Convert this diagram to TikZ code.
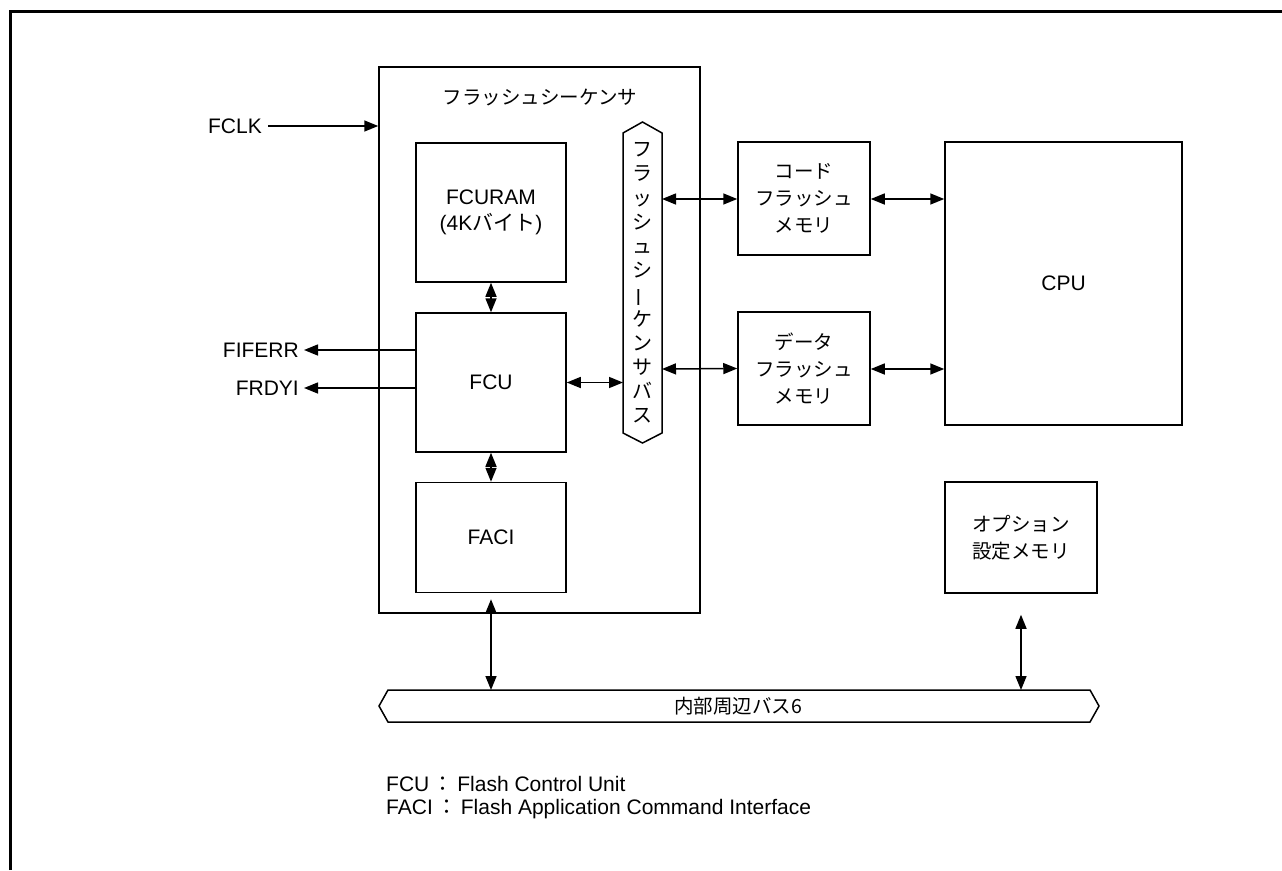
\documentclass[tikz,border=0pt]{standalone}
\usepackage{fontspec}
\usepackage{graphicx}
\setmainfont{Liberation Sans}
\newfontfamily\cjk{Noto Sans CJK JP}
\usetikzlibrary{arrows.meta}
\begin{document}
\begin{tikzpicture}[x=1pt,y=-1pt,
  every node/.style={font=\fontsize{21}{26}\selectfont},
  blk/.style={draw,line width=1.5pt,inner sep=0pt,align=center},
  lnk/.style={line width=1.5pt,{Triangle[length=14pt,width=11pt]}-{Triangle[length=14pt,width=11pt]}},
  one/.style={line width=1.5pt,-{Triangle[length=14pt,width=11pt]}},
  txt/.style={inner sep=0pt},
  jp/.style={font=\cjk\fontsize{19.5}{27}\selectfont}]
\useasboundingbox (0,0) rectangle (1282,870);
% frame
\draw[line width=3pt] (10,870) -- (10,11) -- (1282,11);
% flash sequencer
\node[blk,minimum width=321pt,minimum height=546pt] (seq) at (539.5,340) {};
\node[txt,jp] (seqt) at (540,98) {フラッシュシーケンサ};
% FCURAM
\node[blk,minimum width=150pt,minimum height=139pt] (ram) at (491,212.5) {FCURAM\\(4K{\cjk バイト})};
\node[blk,minimum width=150pt,minimum height=139pt] (fcu) at (491,382.5) {FCU};
\node[blk,minimum width=150pt,minimum height=110pt] (faci) at (491,537.5) {FACI};
% vertical bus
\coordinate (vbt) at (642.5,122);
\coordinate (vbb) at (642.5,443);
\draw[line width=1.5pt] (623,133) -- (vbt) -- (662,133) -- (662,433) -- (vbb) -- (623,433) -- cycle;
\node[txt,align=center,font=\cjk\fontsize{20}{24.2}\selectfont] (vbus) at (642.5,283) {フ\\ラ\\ッ\\シ\\ュ\\シ\\\rotatebox[origin=c]{90}{ー}\\ケ\\ン\\サ\\バ\\ス};
% code / data flash
\node[blk,jp,minimum width=132pt,minimum height=113pt] (code) at (804,198.5) {コード\\フラッシュ\\メモリ};
\node[blk,jp,minimum width=132pt,minimum height=113pt] (data) at (804,368.5) {データ\\フラッシュ\\メモリ};
\node[blk,minimum width=237pt,minimum height=283pt] (cpu) at (1063.5,283.5) {CPU};
\node[blk,jp,minimum width=152pt,minimum height=111pt] (opt) at (1021,537.5) {オプション\\設定メモリ};
% internal bus
\draw[line width=1.5pt] (388,690) -- (1090,690) -- (1099,706) -- (1090,722) -- (388,722) -- (379,706) -- cycle;
\node[txt,jp] (ibus) at (738,706) {内部周辺バス6};
\coordinate (ibt1) at (491,690);
\coordinate (ibt2) at (1021,690);
% external signals
\node[txt,anchor=east] (fclk) at (262,126) {FCLK};
\draw[one] ([xshift=6pt]fclk.east) -- (seq.west |- fclk);
\node[txt,anchor=east] (fiferr) at (299,350) {FIFERR};
\node[txt,anchor=east] (frdyi) at (299,388) {FRDYI};
\draw[one] (fcu.west |- fiferr) -- ([xshift=5pt]fiferr.east);
\draw[one] (fcu.west |- frdyi) -- ([xshift=5pt]frdyi.east);
% links
\draw[lnk] (ram.south) -- (fcu.north);
\draw[lnk] (fcu.south) -- (faci.north);
\draw[lnk] ([yshift=-6pt]faci.south) -- (ibt1);
\draw[lnk] (opt.south) ++(0,21) -- (ibt2);
\draw[lnk] (fcu.east) -- (fcu.east -| 623,0);
\draw[lnk] (662,369) -- (data.west);
\draw[lnk] (662,199) -- (code.west |- 0,199);
\draw[lnk] (code.east |- 0,199) -- (cpu.west |- 0,199);
\draw[lnk] (data.east |- 0,369) -- (cpu.west |- 0,369);
% legend
\node[txt,anchor=west,font=\fontsize{21}{25}\selectfont] (leg1) at (386,784) {FCU\,{\cjk ：}\,Flash Control Unit};
\node[txt,anchor=west,font=\fontsize{21}{25}\selectfont] (leg2) at (386,809) {FACI\,{\cjk ：}\,Flash Application Command Interface};
\end{tikzpicture}
\end{document}
